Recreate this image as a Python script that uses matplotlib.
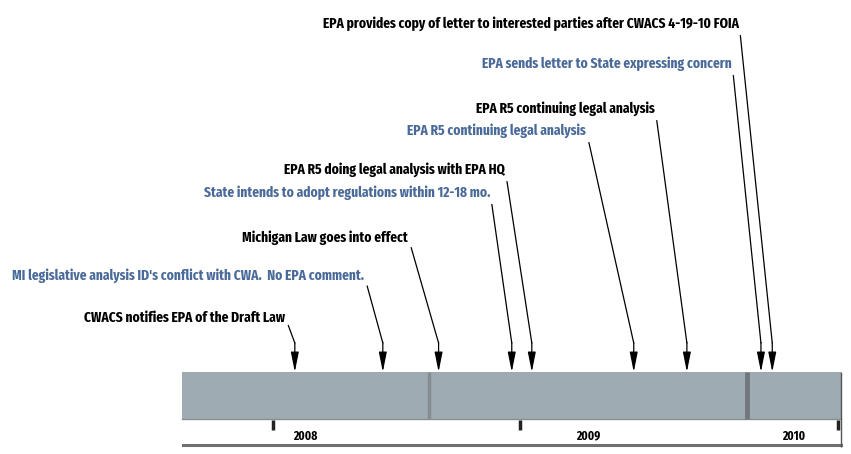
import datetime as dt
import numpy as np
import matplotlib
matplotlib.use("Agg")
import matplotlib.pyplot as plt
import matplotlib.dates as mdates

# timeline data
start = dt.date(2008, 3, 24)
end = dt.date(2010, 4, 19)
year_starts = [dt.date(2009, 1, 1), dt.date(2010, 1, 1)]
year_labels = ['2008', '2009', '2010']
minor_ticks = [dt.date(2008, 7, 6), dt.date(2009, 4, 15), dt.date(2010, 4, 15)]

event_dates = [dt.date(2008, 7, 31), dt.date(2008, 11, 9), dt.date(2009, 1, 12),
               dt.date(2009, 4, 6), dt.date(2009, 4, 29), dt.date(2009, 8, 24),
               dt.date(2009, 10, 24), dt.date(2010, 1, 17), dt.date(2010, 1, 30)]
event_text = ['CWACS notifies EPA of the Draft Law',
              "MI legislative analysis ID's conflict with CWA.  No EPA comment.",
              'Michigan Law goes into effect',
              'State intends to adopt regulations within 12-18 mo.',
              'EPA R5 doing legal analysis with EPA HQ',
              'EPA R5 continuing legal analysis',
              'EPA R5 continuing legal analysis',
              'EPA sends letter to State expressing concern',
              'EPA provides copy of letter to interested parties after CWACS 4-19-10 FOIA']
event_blue = [False, True, False, True, False, True, False, True, False]
# label anchor (right end of text, image pixels)
label_xy = [(285, 318), (364, 276), (408, 238), (490, 193), (505, 170),
            (586, 131), (655, 109), (732, 64), (739, 24)]

FONT = 'Fira Sans Extra Condensed'
W, H = 851, 454
fig = plt.figure(figsize=(W / 100, H / 100), dpi=100)
ax = fig.add_axes([0, 0, 1, 1])

# x in dates, scaled so 2009 -> px 429 and 2010 -> px 747
d09 = mdates.date2num(year_starts[0])
d10 = mdates.date2num(year_starts[1])
dpp = (d10 - d09) / (747 - 429)
ax.set_xlim(d09 - 429 * dpp, d09 + (W - 429) * dpp)
ax.set_ylim(H, 0)
ax.axis('off')

s = mdates.date2num(start)
e = mdates.date2num(end)
ax.barh(395, e - s, left=s, height=47, color='#9eabb3', edgecolor='none')
ax.plot([s, e], [419, 419], color='#8a8f94', lw=1)
ax.vlines(mdates.date2num(year_starts[0]), 372, 419, color='#858d93', lw=2.5)
ax.vlines(mdates.date2num(year_starts[1]), 372, 419, color='#72777b', lw=3.5)
ax.plot([s + 1 * dpp, e], [445, 445], color='#6f6f6f', lw=2.2)
ax.vlines(e, 372, 447, color='#555555', lw=1)
ax.vlines(mdates.date2num(minor_ticks), 420, 430, color='#222222', lw=2.5)

bounds = [s, d09, d10, e]
for i, lab in enumerate(year_labels):
    ax.text((bounds[i] + bounds[i + 1]) / 2, 436, lab, ha='center', va='center',
            fontsize=9, fontweight='bold', family=FONT)

knee = 343
for d, txt, blue, (tx, ty) in zip(event_dates, event_text, event_blue, label_xy):
    x = mdates.date2num(d)
    col = '#4a6a99' if blue else 'black'
    ax.annotate(txt, xy=(x, knee), xycoords='data',
                xytext=(tx, H - ty), textcoords='figure pixels',
                ha='right', va='center', color=col, fontsize=10.5,
                fontweight='bold', family=FONT,
                arrowprops=dict(arrowstyle='-', color='black', lw=0.9,
                                relpos=(1, 0.6), shrinkA=1, shrinkB=0))
    ax.annotate('', xy=(x, 372), xytext=(x, knee - 0.5),
                arrowprops=dict(arrowstyle='-|>,head_length=1.0,head_width=0.2',
                                mutation_scale=12, color='black', lw=0.9,
                                shrinkA=0, shrinkB=0))

plt.savefig('out.png', dpi=100)
